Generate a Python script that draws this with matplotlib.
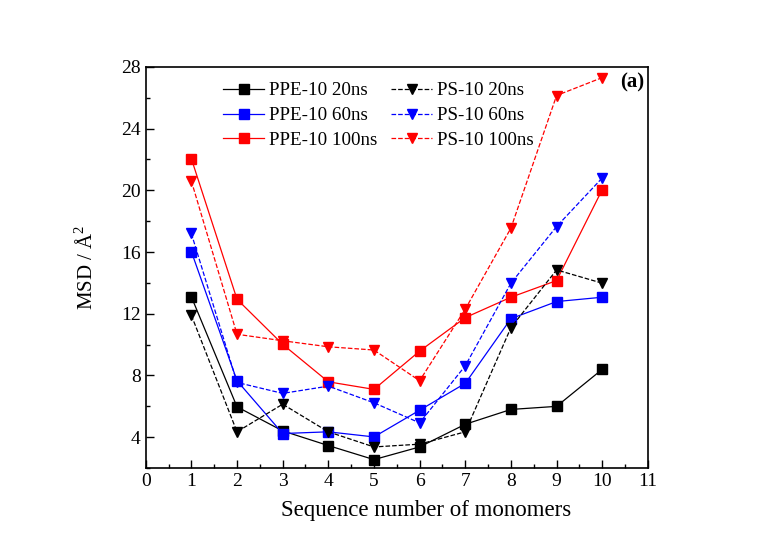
import numpy as np
import matplotlib
matplotlib.use("Agg")
import matplotlib.pyplot as plt
from matplotlib.ticker import MultipleLocator

# monomer index along the chain
monomers = [1, 2, 3, 4, 5, 6, 7, 8, 9, 10]

# MSD values (Angstrom^2)
ppe_20 = [13.1, 5.97, 4.41, 3.46, 2.55, 3.37, 4.84, 5.8, 6.0, 8.4]
ppe_60 = [16.03, 7.66, 4.24, 4.35, 4.02, 5.75, 7.49, 11.68, 12.79, 13.07]
ppe_100 = [22.05, 12.94, 10.02, 7.59, 7.1, 9.58, 11.75, 13.07, 14.15, 20.04]
ps_20 = [11.9, 4.35, 6.14, 4.35, 3.37, 3.55, 4.35, 11.1, 14.84, 13.98]
ps_60 = [17.2, 7.55, 6.84, 7.31, 6.23, 4.93, 8.63, 13.98, 17.65, 20.8]
ps_100 = [20.6, 10.67, 10.25, 9.86, 9.65, 7.66, 12.3, 17.55, 26.14, 27.3]

plt.rcParams['font.family'] = ['Liberation Serif', 'DejaVu Serif']
plt.rcParams['mathtext.fontset'] = 'custom'
plt.rcParams['mathtext.rm'] = 'Liberation Serif'

fig = plt.figure(figsize=(7.75, 5.52), dpi=100)
ax = fig.add_axes([0.188, 0.152, 0.648, 0.727])

series = [
    (ppe_20, 'PPE-10 20ns', 'black', 's', '-'),
    (ppe_60, 'PPE-10 60ns', 'blue', 's', '-'),
    (ppe_100, 'PPE-10 100ns', 'red', 's', '-'),
    (ps_20, 'PS-10 20ns', 'black', 'v', '--'),
    (ps_60, 'PS-10 60ns', 'blue', 'v', '--'),
    (ps_100, 'PS-10 100ns', 'red', 'v', '--'),
]
for vals, label, color, marker, ls in series:
    ax.plot(monomers, vals, color=color, marker=marker, linestyle=ls,
            linewidth=0.9, markersize=7, label=label)

ax.set_xlim(0, 11)
ax.set_ylim(2, 28)
ax.xaxis.set_major_locator(MultipleLocator(1))
ax.xaxis.set_minor_locator(MultipleLocator(0.5))
ax.yaxis.set_major_locator(MultipleLocator(4))
ax.yaxis.set_minor_locator(MultipleLocator(2))
ax.tick_params(which='both', direction='in', top=False, right=False, labelsize=14)
ax.tick_params(which='major', length=6, width=1)
ax.tick_params(which='minor', length=3, width=1)
for sp in ax.spines.values():
    sp.set_linewidth(1.2)

ax.set_xlabel('Sequence number of monomers', fontsize=16.5)
ax.xaxis.set_label_coords(0.558, -0.08)
ax.set_ylabel('MSD / Å$^2$', fontsize=15, labelpad=17)

ax.text(0.992, 0.985, '(a)', transform=ax.transAxes, ha='right', va='top',
        fontsize=15, fontweight='bold')

ax.legend(ncol=2, loc='upper left', bbox_to_anchor=(0.12, 1.005), frameon=False,
          fontsize=13.7, handlelength=2.15, columnspacing=0.75, labelspacing=0.4,
          handletextpad=0.25)

fig.savefig('out.png', dpi=100)
